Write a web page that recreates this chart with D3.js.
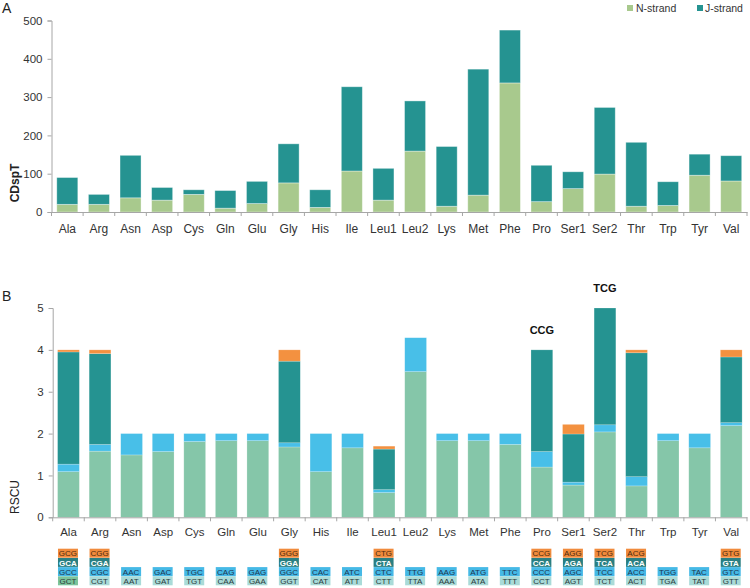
<!DOCTYPE html>
<html><head><meta charset="utf-8">
<script src="https://cdn.jsdelivr.net/npm/d3@7"></script>
<style>body{margin:0;background:#fff}svg{display:block;font-family:Arial,"Liberation Sans",sans-serif}</style>
</head><body>
<svg id="c" width="750" height="588"></svg>
<script>
const aminoAcids = ["Ala","Arg","Asn","Asp","Cys","Gln","Glu","Gly","His","Ile","Leu1","Leu2","Lys","Met","Phe","Pro","Ser1","Ser2","Thr","Trp","Tyr","Val"];
const nStrand = [20,20,37,31,46,10,22,76,12,107,31,159,15,44,337,27,61,99,15,17,96,81];
const totalCount = [90,46,148,64,58,56,80,178,58,327,114,290,171,373,475,122,105,273,182,79,151,147];
const jStrand = totalCount.map((t,i)=>t-nStrand[i]);
const yTicksA = [0,100,200,300,400,500];
const yTicksB = [0,1,2,3,4,5];
const seriesA = ["N-strand","J-strand"];
// codons listed bottom-to-top of each stack
const rscuCodons = [
 ["GCT","GCC","GCA","GCG"],["CGT","CGC","CGA","CGG"],["AAT","AAC"],["GAT","GAC"],["TGT","TGC"],
 ["CAA","CAG"],["GAA","GAG"],["GGT","GGC","GGA","GGG"],["CAT","CAC"],["ATT","ATC"],
 ["CTT","CTC","CTA","CTG"],["TTA","TTG"],["AAA","AAG"],["ATA","ATG"],["TTT","TTC"],
 ["CCT","CCC","CCA","CCG"],["AGT","AGC","AGA","AGG"],["TCT","TCC","TCA","TCG"],["ACT","ACC","ACA","ACG"],
 ["TGA","TGG"],["TAT","TAC"],["GTT","GTC","GTA","GTG"]
];
const rscuValues = [
 [1.09,0.18,2.68,0.05],[1.58,0.16,2.17,0.09],[1.49,0.51],[1.57,0.43],[1.81,0.19],
 [1.83,0.17],[1.83,0.17],[1.68,0.10,1.95,0.27],[1.09,0.91],[1.66,0.34],
 [0.59,0.07,0.97,0.07],[3.48,0.81],[1.83,0.17],[1.83,0.17],[1.74,0.26],
 [1.20,0.37,2.43,0],[0.77,0.07,1.15,0.23],[2.04,0.17,2.79,0],[0.75,0.22,2.96,0.07],
 [1.83,0.17],[1.66,0.34],[2.19,0.07,1.57,0.17]
];
const annotations = [{aa:"Pro",text:"CCG"},{aa:"Ser2",text:"TCG"}];

const colA = ["#a8c98d","#259391"];
const colB = ["#85c6a9","#48bfe8","#259391","#f39140"];
const labelBg = ["#a9dbd8","#45b9e6","#2a7f82","#f08a3c"];
const labelFg = ["#2b3a3a","#1d3550","#ffffff","#4a2a10"];
const axisCol = "#a6a6a6", textCol = "#333";

const svg = d3.select("#c");

// ---------- Panel A ----------
const xA = d3.scaleBand().domain(aminoAcids).range([51.5,747]).paddingInner(0.335).paddingOuter(0.1675);
const yA = d3.scaleLinear().domain([0,500]).range([212,20.5]);
const gA = svg.append("g");
const stackA = d3.stack().keys([0,1]).value((d,k)=>k===0?nStrand[d]:jStrand[d])(d3.range(aminoAcids.length));
stackA.forEach((layer,k)=>{
  gA.selectAll(null).data(layer).enter().append("rect")
    .attr("x",(d,i)=>xA(aminoAcids[i])).attr("width",xA.bandwidth())
    .attr("y",d=>yA(d[1])).attr("height",d=>yA(d[0])-yA(d[1]))
    .attr("fill",colA[k]).attr("stroke","rgba(255,255,255,0.45)").attr("stroke-width",0.8);
});
const ayA = gA.append("g").attr("transform","translate(51.5,0)").call(d3.axisLeft(yA).tickValues(yTicksA).tickSize(4).tickPadding(5));
const axA = gA.append("g").attr("transform","translate(0,212)").call(d3.axisBottom(xA).tickSize(0).tickPadding(12));
gA.append("g").selectAll("line").data(d3.range(aminoAcids.length+1)).enter().append("line")
  .attr("x1",i=>51.5+i*xA.step()).attr("x2",i=>51.5+i*xA.step()).attr("y1",212).attr("y2",216)
  .attr("stroke",axisCol);
[ayA,axA].forEach(a=>{a.select(".domain").attr("stroke",axisCol);a.selectAll(".tick line").attr("stroke",axisCol);
  a.selectAll("text").attr("fill",textCol).style("font-size","11.5px").style("font-family","Arial, 'Liberation Sans', sans-serif");});
axA.selectAll("text").style("font-size","12px");
gA.append("text").attr("transform","translate(19,183) rotate(-90)").attr("text-anchor","middle")
  .style("font-weight","bold").style("font-size","12px").attr("fill","#222").text("CDspT");
gA.append("text").attr("x",2).attr("y",13).style("font-size","14px").attr("fill","#222").text("A");
// legend
const leg = gA.append("g");
[[627,636],[697,705]].forEach((p,k)=>{
  leg.append("rect").attr("x",p[0]).attr("y",5).attr("width",6).attr("height",6).attr("fill",colA[k]);
  leg.append("text").attr("x",p[1]).attr("y",12).style("font-size","10.5px").attr("fill",textCol).text(seriesA[k]);
});

// ---------- Panel B ----------
const xB = d3.scaleBand().domain(aminoAcids).range([52.7,747]).paddingInner(0.31).paddingOuter(0.155);
const yB = d3.scaleLinear().domain([0,5]).range([517.3,308]);
const gB = svg.append("g");
aminoAcids.forEach((aa,i)=>{
  let cum = 0;
  rscuValues[i].forEach((v,k)=>{
    if(v>0){
      gB.append("rect").attr("x",xB(aa)).attr("width",xB.bandwidth())
        .attr("y",yB(cum+v)).attr("height",yB(cum)-yB(cum+v))
        .attr("fill",colB[k]).attr("stroke","rgba(255,255,255,0.35)").attr("stroke-width",0.6);
    }
    cum += v;
  });
});
const ayB = gB.append("g").attr("transform","translate(52.7,0)").call(d3.axisLeft(yB).tickValues(yTicksB).tickFormat(d3.format("d")).tickSize(4).tickPadding(5));
const axB = gB.append("g").attr("transform","translate(0,517.3)").call(d3.axisBottom(xB).tickSize(0).tickPadding(11));
gB.append("g").selectAll("line").data(d3.range(aminoAcids.length+1)).enter().append("line")
  .attr("x1",i=>52.7+i*xB.step()).attr("x2",i=>52.7+i*xB.step()).attr("y1",517.3).attr("y2",521.3)
  .attr("stroke",axisCol);
[ayB,axB].forEach(a=>{a.select(".domain").attr("stroke",axisCol);a.selectAll(".tick line").attr("stroke",axisCol);
  a.selectAll("text").attr("fill",textCol).style("font-size","11.5px").style("font-family","Arial, 'Liberation Sans', sans-serif");});
gB.append("text").attr("transform","translate(19,497) rotate(-90)").attr("text-anchor","middle")
  .style("font-size","12px").attr("fill","#222").text("RSCU");
gB.append("text").attr("x",2).attr("y",301).style("font-size","14px").attr("fill","#222").text("B");
annotations.forEach(a=>{
  const i = aminoAcids.indexOf(a.aa);
  const tot = d3.sum(rscuValues[i]);
  gB.append("text").attr("x",xB(a.aa)+xB.bandwidth()/2).attr("y",yB(tot)-16).attr("text-anchor","middle")
    .style("font-weight","bold").style("font-size","11px").attr("fill","#111").text(a.text);
});
// codon label boxes
const rowTop = [576.3,567.1,557.9,548.7];
aminoAcids.forEach((aa,i)=>{
  const cx = xB(aa)+xB.bandwidth()/2 - 0.5;
  rscuCodons[i].forEach((c,k)=>{
    const bg = (i===0 && k===0) ? "#7cc49c" : labelBg[k];
    gB.append("rect").attr("x",cx-10).attr("y",rowTop[k]).attr("width",20).attr("height",9).attr("fill",bg);
    gB.append("text").attr("x",cx).attr("y",rowTop[k]+7.6).attr("text-anchor","middle")
      .style("font-size","8px").style("font-weight",k===2?"bold":"normal").attr("fill",labelFg[k]).text(c);
  });
});
</script>
</body></html>
